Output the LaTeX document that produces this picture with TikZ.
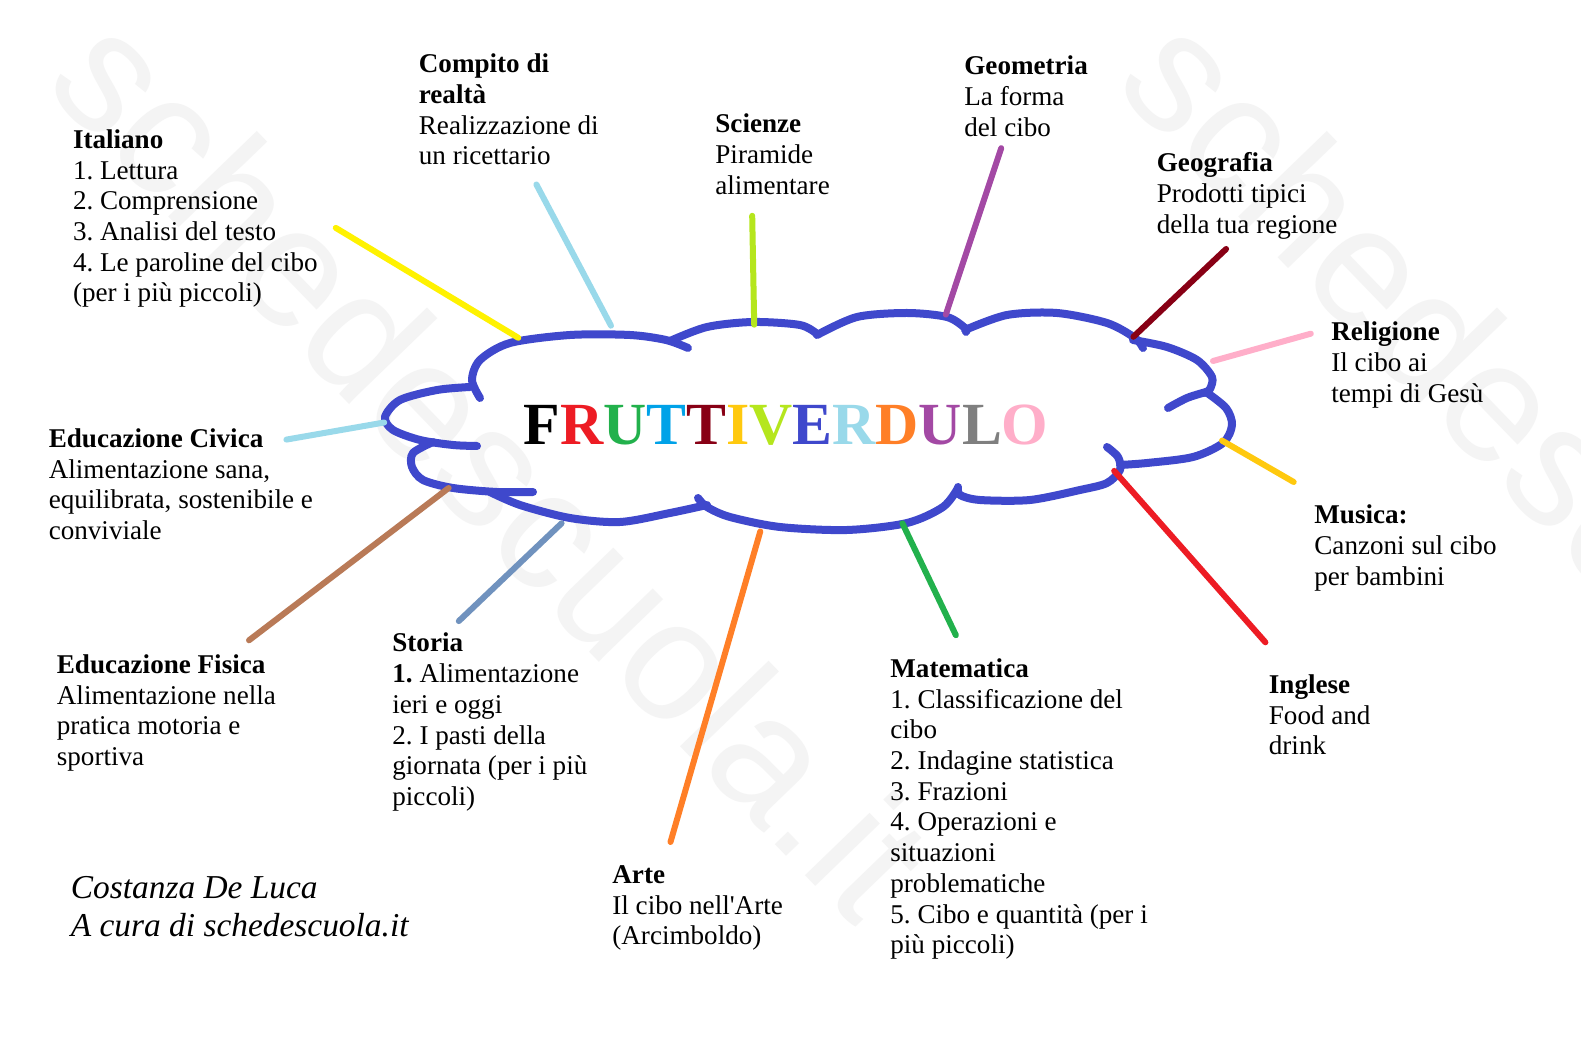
\documentclass[tikz,border=0pt]{standalone}
\usepackage{fontspec}
\setmainfont{Liberation Serif}[Ligatures=TeXOff]
\newfontfamily\wmfont{Liberation Sans}
\definecolor{pYellow}{HTML}{FFF200}
\definecolor{pLtTurq}{HTML}{99D9EA}
\definecolor{pLime}{HTML}{B5E61D}
\definecolor{pPurple}{HTML}{A349A4}
\definecolor{pDkRed}{HTML}{880015}
\definecolor{pRose}{HTML}{FFAEC9}
\definecolor{pGold}{HTML}{FFC90E}
\definecolor{pRed}{HTML}{ED1C24}
\definecolor{pGreen}{HTML}{22B14C}
\definecolor{pOrange}{HTML}{FF7F27}
\definecolor{pBlueGray}{HTML}{7092BE}
\definecolor{pBrown}{HTML}{B97A57}
\definecolor{pIndigo}{HTML}{3F48CC}
\definecolor{pTurq}{HTML}{00A2E8}
\definecolor{pGray}{HTML}{7F7F7F}
\definecolor{wmGray}{HTML}{F4F4F4}
\frenchspacing
\newcommand{\lns}[1]{\vtop{\let\\\cr\baselineskip=15.35pt\lineskip=0pt\lineskiplimit=-20pt\halign{##\hfil\cr#1\crcr}}}
\newcommand{\lnsc}[1]{\vtop{\let\\\cr\baselineskip=19.15pt\lineskip=0pt\lineskiplimit=-20pt\halign{##\hfil\cr#1\crcr}}}
\tikzset{
  cloudline/.style={line width=4pt, draw=pIndigo, line cap=round, line join=round},
  conn/.style={line width=3pt, line cap=round},
  blk/.style={anchor=base west, inner sep=0pt, font=\frenchspacing\fontsize{13.55pt}{15.35pt}\selectfont},
  wm/.style={inner sep=0pt, text=wmGray, font=\wmfont\fontsize{85pt}{90pt}\selectfont},
}
\begin{document}
\begin{tikzpicture}[x=0.5pt,y=-0.5pt]
\useasboundingbox (0,0) rectangle (1581,1047);
\fill[white] (0,0) rectangle (1581,1047);
% watermark
\begin{scope}
\clip (0,0) rectangle (1581,1047);
\node[wm, rotate=-46] (wm1) at (493,465) {schedescuola.it};
\node[wm, rotate=-46] (wm2) at (1563,465) {schedescuola.it};
\end{scope}
% cloud
\draw[cloudline] plot[smooth] coordinates {(480,398) (472,380) (480,360) (510,343) (570,335) (630,335) (666,340) (688,348)};
\draw[cloudline] plot[smooth] coordinates {(670,341) (707,327) (753,322) (800,325) (817,334)};
\draw[cloudline] plot[smooth] coordinates {(817,335) (857,317) (907,313) (947,317) (965,328) (966,332)};
\draw[cloudline] plot[smooth] coordinates {(965,330) (1007,315) (1057,313) (1107,323) (1135,338) (1143,348)};
\draw[cloudline] plot[smooth] coordinates {(1133,340) (1167,347) (1197,360) (1212,377) (1210,389) (1205,393)};
\draw[cloudline] plot[smooth] coordinates {(1206,392) (1187,398) (1168,408)};
\draw[cloudline] plot[smooth] coordinates {(1206,392) (1226,408) (1232,425) (1223,443) (1193,457) (1147,463) (1120,465)};
\draw[cloudline] plot[smooth] coordinates {(1107,447) (1118,457) (1120,470) (1107,483) (1080,490) (1030,500) (980,500) (960,495) (958,487)};
\draw[cloudline] plot[smooth] coordinates {(958,488) (943,507) (907,523) (847,530) (780,527) (730,517) (707,507) (698,498)};
\draw[cloudline] plot[smooth] coordinates {(490,492) (520,505) (570,518) (620,522) (670,513) (707,505)};
\draw[cloudline] plot[smooth] coordinates {(433,442) (413,453) (412,467) (423,480) (453,488) (497,492) (533,492)};
\draw[cloudline] plot[smooth] coordinates {(470,387) (437,390) (400,400) (385,417) (393,430) (420,440) (453,445) (477,446)};
% title
\node[anchor=base, inner sep=0pt, font=\bfseries\fontsize{29.9pt}{30pt}\selectfont] (title) at (786,444.5)
 {\textcolor{black}{F}\textcolor{pRed}{R}\textcolor{pGreen}{U}\textcolor{pTurq}{T}\textcolor{pDkRed}{T}\textcolor{pGold}{I}\textcolor{pLime}{V}\textcolor{pIndigo}{E}\textcolor{pLtTurq}{R}\textcolor{pOrange}{D}\textcolor{pPurple}{U}\textcolor{pGray}{L}\textcolor{pRose}{O}};
% connector ends
\coordinate (it1) at (335.8,227.9);  \coordinate (it2) at (518.3,337.8);
\coordinate (co1) at (536.4,184.5);  \coordinate (co2) at (611,325.7);
\coordinate (sc1) at (752.2,215.8);  \coordinate (sc2) at (754.2,324.7);
\coordinate (ge1) at (1001.2,148.2); \coordinate (ge2) at (945.8,314.6);
\coordinate (gg1) at (1226.1,249);   \coordinate (gg2) at (1133.4,336.8);
\coordinate (re1) at (1310.8,333.7); \coordinate (re2) at (1213,361);
\coordinate (ec1) at (286.4,439.6);  \coordinate (ec2) at (384.2,422.5);
\coordinate (mu1) at (1293.7,482);   \coordinate (mu2) at (1222,440.6);
\coordinate (in1) at (1265.4,642.3); \coordinate (in2) at (1114.2,470.9);
\coordinate (ma1) at (955.9,635.2);  \coordinate (ma2) at (902.4,523.3);
\coordinate (ar1) at (670.5,842);    \coordinate (ar2) at (760.3,531.4);
\coordinate (st1) at (458.8,621.1);  \coordinate (st2) at (561.6,523.3);
\coordinate (ef1) at (249,640.3);    \coordinate (ef2) at (448.7,488);
\draw[conn, pYellow] (it1) -- (it2);
\draw[conn, pLtTurq] (co1) -- (co2);
\draw[conn, pLime] (sc1) -- (sc2);
\draw[conn, pPurple] (ge1) -- (ge2);
\draw[conn, pDkRed] (gg1) -- (gg2);
\draw[conn, pRose] (re1) -- (re2);
\draw[conn, pLtTurq] (ec1) -- (ec2);
\draw[conn, pGold] (mu1) -- (mu2);
\draw[conn, pRed] (in1) -- (in2);
\draw[conn, pGreen] (ma1) -- (ma2);
\draw[conn, pOrange] (ar1) -- (ar2);
\draw[conn, pBlueGray] (st1) -- (st2);
\draw[conn, pBrown] (ef1) -- (ef2);
% text blocks
\node[blk] (italiano) at (72.6,148.5) {\lns{\textbf{Italiano}\\1. Lettura\\2. Comprensione\\3. Analisi del testo\\4. Le paroline del cibo\\(per i più piccoli)}};
\node[blk] (compito) at (418.5,72.8) {\lns{\textbf{Compito di}\\\textbf{realtà}\\Realizzazione di\\un ricettario}};
\node[blk] (scienze) at (715,133) {\lns{\textbf{Scienze}\\Piramide\\alimentare}};
\node[blk] (geometria) at (964,74.7) {\lns{\textbf{Geometria}\\La forma\\del cibo}};
\node[blk] (geografia) at (1156.5,172) {\lns{\textbf{Geografia}\\Prodotti tipici\\della tua regione}};
\node[blk] (religione) at (1331,341) {\lns{\textbf{Religione}\\Il cibo ai\\tempi di Gesù}};
\node[blk] (civica) at (48.4,447.5) {\lns{\textbf{Educazione Civica}\\Alimentazione sana,\\equilibrata, sostenibile e\\conviviale}};
\node[blk] (musica) at (1314,523.7) {\lns{\textbf{Musica:}\\Canzoni sul cibo\\per bambini}};
\node[blk] (storia) at (392,652) {\lns{\textbf{Storia}\\\textbf{1.} Alimentazione\\ieri e oggi\\2. I pasti della\\giornata (per i più\\piccoli)}};
\node[blk] (fisica) at (56.5,673.5) {\lns{\textbf{Educazione Fisica}\\Alimentazione nella\\pratica motoria e\\sportiva}};
\node[blk] (matematica) at (890,677.5) {\lns{\textbf{Matematica}\\1. Classificazione del\\cibo\\2. Indagine statistica\\3. Frazioni\\4. Operazioni e\\situazioni\\problematiche\\5. Cibo e quantità (per i\\più piccoli)}};
\node[blk] (inglese) at (1268.5,693.5) {\lns{\textbf{Inglese}\\Food and\\drink}};
\node[blk] (arte) at (612,883.5) {\lns{\textbf{Arte}\\Il cibo nell'Arte\\(Arcimboldo)}};
\node[anchor=base west, inner sep=0pt, font=\itshape\fontsize{16.7pt}{19.15pt}\selectfont] (credit) at (70.5,898.7) {\lnsc{Costanza De Luca\\A cura di schedescuola.it}};
\end{tikzpicture}
\end{document}
